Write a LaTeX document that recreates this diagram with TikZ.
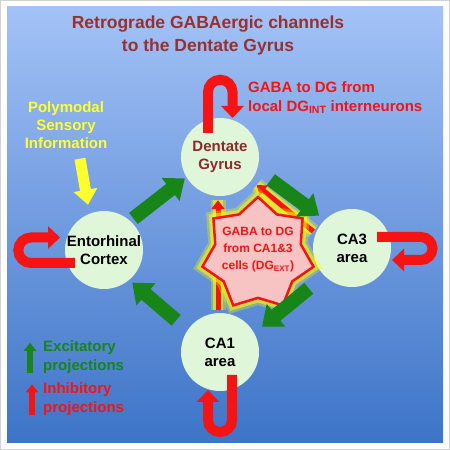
\documentclass[tikz,border=0pt]{standalone}
\usepackage{fontspec}
\setmainfont{Liberation Sans}
\usetikzlibrary{arrows.meta,shapes.geometric,positioning}
\definecolor{panelTop}{HTML}{A3C2F7}
\definecolor{panelBot}{HTML}{3D74C7}
\definecolor{cellgreen}{HTML}{E0F6D9}
\definecolor{excgreen}{HTML}{178517}
\definecolor{inhred}{HTML}{F41414}
\definecolor{titlered}{HTML}{993030}
\definecolor{dgred}{HTML}{8C2A2A}
\definecolor{polyyellow}{HTML}{FFFF2E}
\definecolor{starpink}{HTML}{F8C3C3}
\definecolor{glowyellow}{HTML}{FFFF00}
\newcommand{\zw}[1]{\makebox[0pt]{#1}}

\begin{document}
\begin{tikzpicture}[x=1pt,y=1pt,
		area/.style={circle,fill=cellgreen,minimum size=78pt,inner sep=0pt,align=center,font=\bfseries\fontsize{15}{18}\selectfont},
		lbl/.style={inner sep=0pt,font=\bfseries\fontsize{15}{19}\selectfont},
		glow/.style={preaction={draw=glowyellow,line width=#1,opacity=.3,-},preaction={draw=glowyellow,line width=#1-5pt,opacity=.55,-}},
		excit/.style={draw=excgreen,line width=14pt,-{Triangle[length=18pt,width=28pt]}},
		inhib/.style={draw=inhred,line width=10pt,-{Triangle[length=12pt,width=22pt]}},
		backproj/.style={draw=inhred,line width=5pt,-{Triangle[length=9pt,width=13pt]},glow=15pt},
		sensory/.style={draw=polyyellow,line width=11pt,-{Triangle[length=15pt,width=23pt]}}]
	\useasboundingbox (0,0) rectangle (450,450);
	\fill[white] (0,0) rectangle (450,450);
	\draw[gray!35] (0.5,0.5) rectangle (449.5,449.5);
	\shade[top color=panelTop,bottom color=panelBot] (7,7) rectangle (443,443);

	\node[area,text=dgred] (dg) at (220,293) {Dentate\\Gyrus};
	\node[area] (ec) at (104,200) {\zw{Entorhinal}\\Cortex};
	\node[area] (ca3) at (352,202) {CA3\\area};
	\node[area] (ca1) at (220,98) {CA1\\area};

	\draw[backproj,shorten <=3pt,shorten >=4pt] ([xshift=-2pt]ca1.north) -- ([xshift=-2pt]dg.south);
	\draw[backproj,shorten <=3pt,shorten >=7pt] (ca3.158) -- (dg.-37);
	\node[star,star points=7,star point ratio=1.3,minimum size=114pt,inner sep=0pt,
		draw=inhred,line width=2.5pt,fill=starpink,glow=14pt,
		text=inhred,align=center,text depth=11pt,font=\bfseries\fontsize{12}{17}\selectfont]
		(gaba) at (258,196) {\zw{GABA to DG}\\\zw{from CA1\&3}\\\zw{cells (DG\textsubscript{EXT})}};

	\draw[excit,shorten <=4pt,shorten >=2pt] (ec.48) -- (dg.211);
	\draw[excit,shorten <=17pt,shorten >=7pt] (dg.-19) -- (ca3.134);
	\draw[excit,shorten <=20pt,shorten >=10pt] (ca3.225) -- (ca1.29);
	\draw[excit,shorten <=15pt,shorten >=4pt] (ca1.146) -- (ec.-50);

	\draw[inhib] ([shift={(-12pt,24pt)}]dg.center) -- ++(0,41) arc[start angle=180,end angle=0,radius=12.25pt] -- ([shift={(12.5pt,39pt)}]dg.center);
	\draw[inhib] ([shift={(-29pt,-13pt)}]ec.center) -- ++(-44,0) arc[start angle=270,end angle=90,radius=12.75pt] -- ([shift={(-44pt,12.5pt)}]ec.center);
	\draw[inhib] ([shift={(25pt,11pt)}]ca3.center) -- ++(44,0) arc[start angle=90,end angle=-90,radius=11.5pt] -- ([shift={(40pt,-12pt)}]ca3.center);
	\draw[inhib] ([shift={(12pt,-23pt)}]ca1.center) -- ++(0,-45) arc[start angle=0,end angle=-180,radius=12pt] -- ([shift={(-12pt,-38pt)}]ca1.center);

	\node[align=center,text=titlered,font=\bfseries\fontsize{17.5}{23}\selectfont] (title) at (208,414.5) {Retrograde GABAergic channels\\to the Dentate Gyrus};
	\node[lbl,anchor=west,align=left,text=inhred] (local) at (248,352.5) {GABA to DG from\\local DG\textsubscript{INT} interneurons};
	\node[lbl,align=center,text=polyyellow,font=\bfseries\fontsize{15}{18}\selectfont] (poly) at (66,325) {Polymodal\\Sensory\\Information};
	\draw[sensory] ([xshift=14pt,yshift=-10pt]poly.south) -- ([xshift=-16pt,yshift=6pt]ec.north);

	\node[lbl,anchor=west,align=left,text=excgreen] (exc) at (43,92.5) {Excitatory\\projections};
	\node[lbl,anchor=west,align=left,text=inhred] (inh) at (43,51) {Inhibitory\\projections};
	\draw[draw=excgreen,line width=6pt,-{Triangle[length=8pt,width=12pt]}] ([xshift=-13pt,yshift=1pt]exc.south west) -- ([xshift=-13pt,yshift=-2pt]exc.north west);
	\draw[draw=inhred,line width=6pt,-{Triangle[length=8pt,width=12pt]}] ([xshift=-11pt,yshift=1pt]inh.south west) -- ([xshift=-11pt,yshift=-2pt]inh.north west);
\end{tikzpicture}
\end{document}
